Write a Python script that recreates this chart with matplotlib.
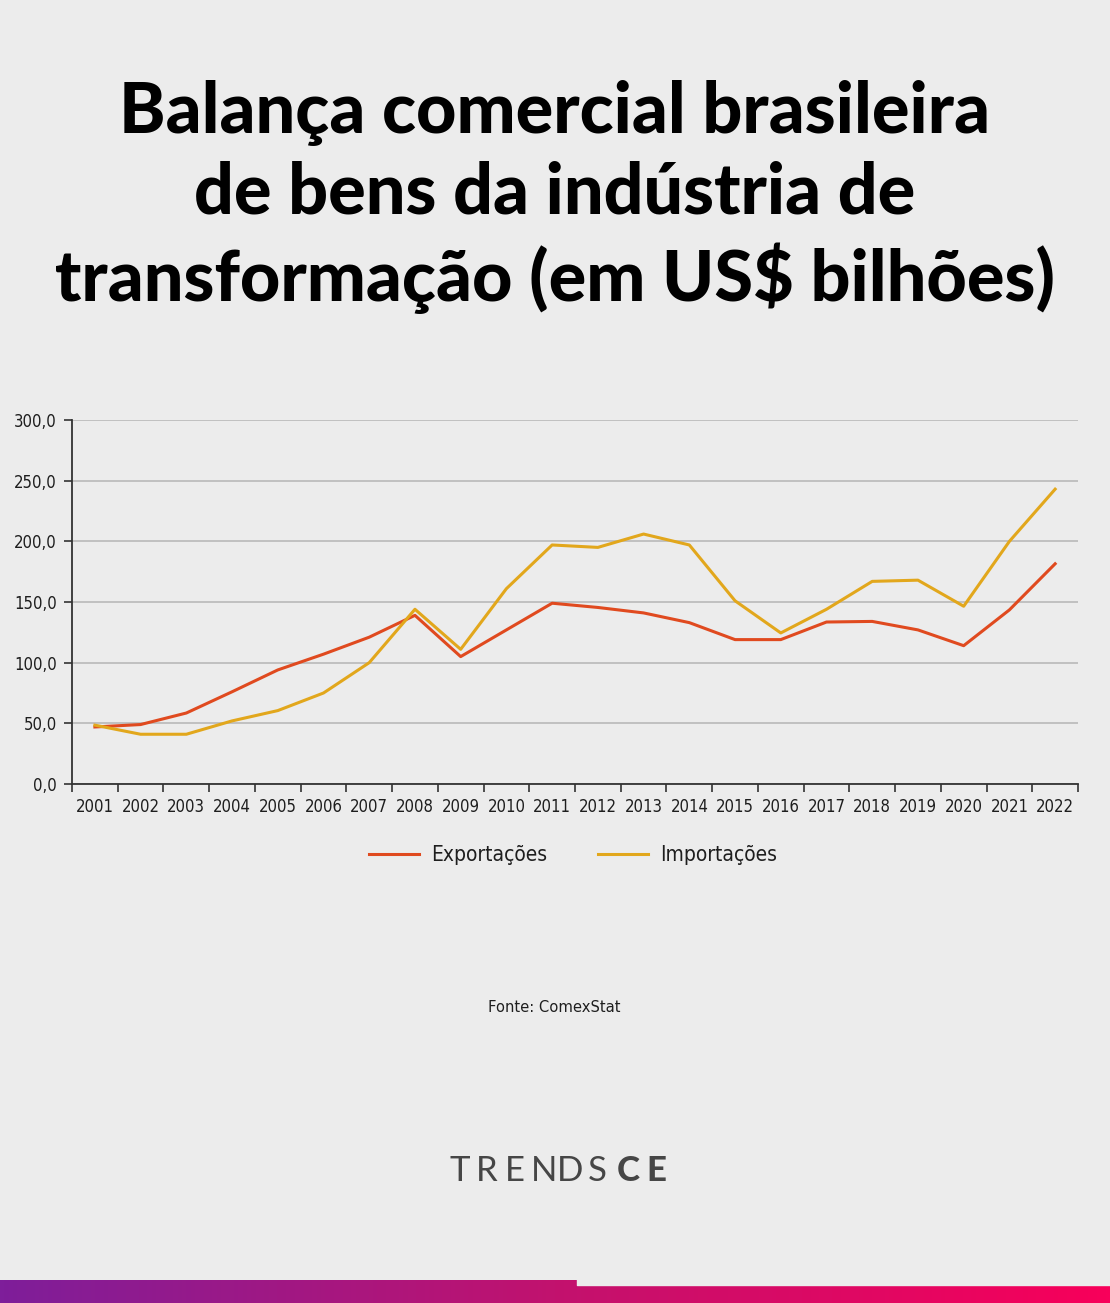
import numpy as np
import matplotlib
matplotlib.use("Agg")
import matplotlib.pyplot as plt
from matplotlib.colors import LinearSegmentedColormap

# dados (US$ bilhões)
anos = [str(a) for a in range(2001, 2023)]
exportacoes = [47, 49, 58.5, 76, 94, 107, 121, 139, 105, 127, 149,
               145.5, 141, 133, 119, 119, 133.5, 134, 127, 114, 143.5, 181.5]
importacoes = [48.5, 41, 41, 52, 60.5, 75, 100, 144, 111, 161, 197,
               195, 206, 197, 151, 124.5, 144, 167, 168, 146.5, 200, 243]
yticks = [0, 50, 100, 150, 200, 250, 300]

BG = "#ECECEC"
RED = "#E04A1F"
YEL = "#E2A71C"
TXT = "#1E1E1E"
cond = dict(family="DejaVu Sans", stretch="condensed")

W, H = 1110, 1303
fig = plt.figure(figsize=(W / 100, H / 100), dpi=100, facecolor=BG)

# título
fig.text(0.5, 1 - 197 / H,
         "Balança comercial brasileira\nde bens da indústria de\ntransformação (em US$ bilhões)",
         ha="center", va="center", fontsize=50.5, fontweight="black",
         family=["Lato", "DejaVu Sans"], linespacing=1.29, color="black")

ax = fig.add_axes([72 / W, 1 - 784 / H, (1078 - 72) / W, (784 - 420) / H])
ax.set_facecolor(BG)
x = np.arange(len(anos))
ax.plot(x, exportacoes, color=RED, lw=2.2, label="Exportações")
ax.plot(x, importacoes, color=YEL, lw=2.2, label="Importações")

ax.set_xlim(-0.5, len(anos) - 0.5)
ax.set_ylim(0, 300)
ax.set_yticks(yticks)
ax.set_yticklabels([f"{v:.1f}".replace(".", ",") for v in yticks],
                   fontsize=12, color=TXT, **cond)
ax.set_xticks(x)
ax.set_xticklabels(anos, fontsize=12, color=TXT, **cond)
ax.set_xticks(np.arange(-0.5, len(anos)), minor=True)
ax.tick_params(axis="x", which="major", length=0, pad=10)
ax.tick_params(axis="x", which="minor", length=6, color="#333333", width=1.2)
ax.tick_params(axis="y", length=6, color="#333333", width=1.2, pad=5)
ax.grid(axis="y", color="#BDBDBD", lw=1.3)
ax.set_axisbelow(True)
for s in ["top", "right"]:
    ax.spines[s].set_visible(False)
for s in ["left", "bottom"]:
    ax.spines[s].set_color("#333333")
    ax.spines[s].set_linewidth(1.3)

leg = fig.legend(loc="center", bbox_to_anchor=(573 / W, 1 - 855 / H), ncol=2,
                 frameon=False, prop=dict(size=15, **cond),
                 handlelength=2.4, columnspacing=2.4, handletextpad=0.6)
for t in leg.get_texts():
    t.set_color(TXT)

fig.text(554 / W, 1 - 1007 / H, "Fonte: ComexStat", ha="center", va="center",
         fontsize=11.8, color=TXT, **cond)

# logo
logo = [("T", 460, "normal"), ("R", 487, "normal"), ("E", 515, "normal"),
        ("N", 544, "normal"), ("D", 570, "normal"), ("S", 597, "normal"),
        ("C", 628, "black"), ("E", 656, "black")]
for ch, px, wt in logo:
    fig.text(px / W, 1 - 1171 / H, ch, ha="center", va="center",
             family=["Lato", "DejaVu Sans"], fontsize=25, fontweight=wt,
             color="#464646")

# faixa inferior em degradê
cmap = LinearSegmentedColormap.from_list("g", ["#7E1E9A", "#C2126E", "#F8005A"])
bar = fig.add_axes([0, 0, 1, 23 / H])
bar.imshow(np.linspace(0, 1, 256)[None, :], aspect="auto", cmap=cmap,
           extent=[0, 1, 0, 1])
bar.fill_between([0.52, 1], 0.78, 1.05, color=BG)
bar.set_xlim(0, 1)
bar.set_ylim(0, 1)
bar.axis("off")

fig.savefig("out.png", dpi=100, facecolor=BG)
